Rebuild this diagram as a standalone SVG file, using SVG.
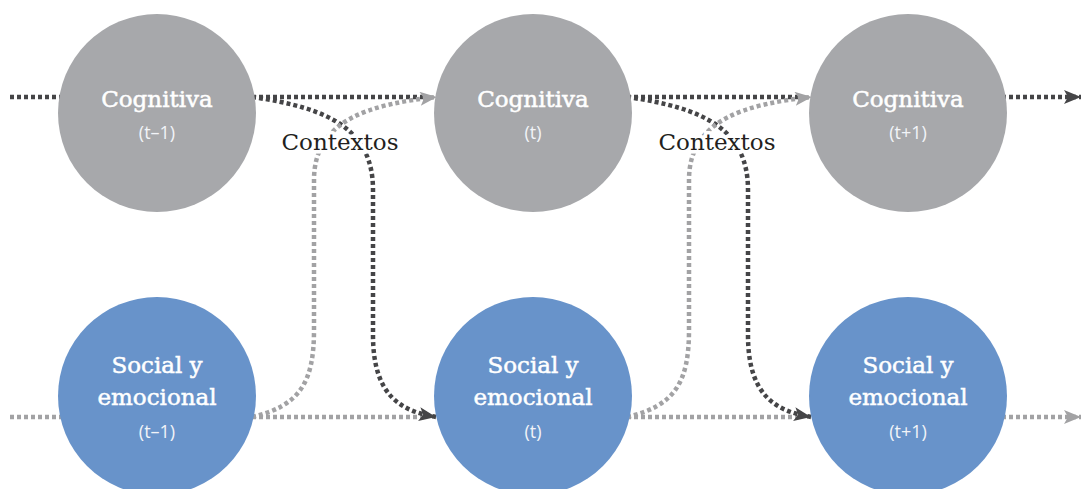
<svg xmlns="http://www.w3.org/2000/svg" width="1083" height="489" viewBox="0 0 1083 489">
<style>
.bg{fill:#ffffff}
.cog{fill:#a7a8ab}
.soc{fill:#6893ca}
.t{font-family:"DejaVu Serif","Liberation Serif",serif;font-size:23px;fill:#ffffff;stroke:#ffffff;stroke-width:0.5;text-anchor:middle}
.s{font-family:"Open Sans","Noto Sans",sans-serif;font-size:18px;fill:#f2f4f8;text-anchor:middle}
.ctx{font-family:"DejaVu Serif","Liberation Serif",serif;font-size:23px;fill:#231f20;text-anchor:middle;stroke:#ffffff;stroke-width:7;stroke-linejoin:round;paint-order:stroke}
.dk{fill:none;stroke:#454547;stroke-width:4.5;stroke-dasharray:4 3}
.lt{fill:none;stroke:#a2a2a4;stroke-width:4.5;stroke-dasharray:4 3}
</style>
<defs>
<marker id="adk" markerUnits="userSpaceOnUse" markerWidth="18" markerHeight="14" refX="17" refY="7" orient="auto">
<path d="M0,0 L17,7 L0,14 L4,7 Z" fill="#454547"/>
</marker>
<marker id="alt" markerUnits="userSpaceOnUse" markerWidth="18" markerHeight="14" refX="17" refY="7" orient="auto">
<path d="M0,0 L17,7 L0,14 L4,7 Z" fill="#a2a2a4"/>
</marker>
</defs>
<rect class="bg" x="0" y="0" width="1083" height="489"/>
<g id="connectors">
<line class="dk" x1="10" y1="97" x2="62" y2="97"/>
<line class="lt" x1="10" y1="417" x2="62" y2="417"/>
<line class="dk" x1="252" y1="97" x2="425" y2="97"/>
<line class="lt" x1="252" y1="417" x2="425" y2="417"/>
<path class="dk" d="M252,97 C330,108 373,130 373,190 L373,335 C373,395 400,411 436,417" marker-end="url(#adk)"/>
<path class="lt" d="M252,417 C300,406 314,382 314,330 L314,180 C314,120 370,104 437,97" marker-end="url(#alt)"/>
<line class="dk" x1="627" y1="97" x2="800" y2="97"/>
<line class="lt" x1="627" y1="417" x2="800" y2="417"/>
<path class="dk" d="M627,97 C705,108 748,130 748,190 L748,335 C748,395 775,411 811,417" marker-end="url(#adk)"/>
<path class="lt" d="M627,417 C675,406 689,382 689,330 L689,180 C689,120 745,104 812,97" marker-end="url(#alt)"/>
<line class="dk" x1="1002" y1="97" x2="1081" y2="97" marker-end="url(#adk)"/>
<line class="lt" x1="1002" y1="417" x2="1081" y2="417" marker-end="url(#alt)"/>
</g>
<g id="contextos1"><text class="ctx" x="340" y="150">Contextos</text></g>
<g id="contextos2"><text class="ctx" x="717" y="150">Contextos</text></g>
<g id="cog1"><circle class="cog" cx="157" cy="113" r="99"/><text class="t" x="157" y="107">Cognitiva</text><text class="s" x="157" y="139">(t–1)</text></g>
<g id="cog2"><circle class="cog" cx="533" cy="113" r="99"/><text class="t" x="533" y="107">Cognitiva</text><text class="s" x="533" y="139">(t)</text></g>
<g id="cog3"><circle class="cog" cx="908" cy="113" r="99"/><text class="t" x="908" y="107">Cognitiva</text><text class="s" x="908" y="139">(t+1)</text></g>
<g id="soc1"><circle class="soc" cx="157" cy="396" r="99"/><text class="t" x="157" y="373">Social y</text><text class="t" x="157" y="405">emocional</text><text class="s" x="157" y="438">(t–1)</text></g>
<g id="soc2"><circle class="soc" cx="533" cy="396" r="99"/><text class="t" x="533" y="373">Social y</text><text class="t" x="533" y="405">emocional</text><text class="s" x="533" y="438">(t)</text></g>
<g id="soc3"><circle class="soc" cx="908" cy="396" r="99"/><text class="t" x="908" y="373">Social y</text><text class="t" x="908" y="405">emocional</text><text class="s" x="908" y="438">(t+1)</text></g>
</svg>
